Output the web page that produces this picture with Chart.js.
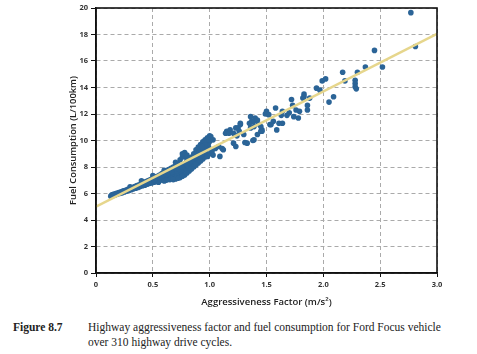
<!DOCTYPE html>
<html>
<head>
<meta charset="utf-8">
<script src="https://cdn.jsdelivr.net/npm/chart.js@4.4.1/dist/chart.umd.min.js"></script>
<style>
  body { margin: 0; background: #fff; width: 477px; height: 354px; position: relative; overflow: hidden; }
  #wrap { position: absolute; left: 0; top: 0; width: 477px; height: 310px; }
  .cap { position: absolute; font-family: "Liberation Serif", serif; font-size: 11.5px; color: #222; line-height: 15px; }
</style>
</head>
<body>
<div id="wrap"><canvas id="fuelChart"></canvas></div>
<div class="cap" style="left:13px; top:320px; font-weight:bold;">Figure 8.7</div>
<div class="cap" style="left:88px; top:320px;">Highway aggressiveness factor and fuel consumption for Ford Focus vehicle<br>over 310 highway drive cycles.</div>
<script>
// aggressiveness factor (m/s2) and fuel use (L/100km)
const aggX = [
  0.13, 0.14, 0.15, 0.16, 0.17, 0.18, 0.19, 0.20, 0.21, 0.22, 0.23, 0.24, 0.25, 0.26, 0.27, 0.28, 0.29, 0.30,
  0.31, 0.32, 0.33, 0.34, 0.35, 0.36, 0.37, 0.38, 0.39, 0.40, 0.41, 0.42, 0.43, 0.44, 0.45, 0.46, 0.47, 0.48,
  0.49, 0.50, 0.51, 0.52, 0.53, 0.54, 0.55, 0.56, 0.57, 0.58, 0.59, 0.60, 0.61, 0.62, 0.63, 0.64, 0.65, 0.66,
  0.67, 0.68, 0.69, 0.70, 0.71, 0.72, 0.73, 0.74, 0.75, 0.76, 0.77, 0.78, 0.79, 0.80, 0.81, 0.82, 0.83, 0.84,
  0.85, 0.86, 0.87, 0.88, 0.89, 0.90, 0.91, 0.92, 0.93, 0.94, 0.95, 0.96, 0.97, 0.98, 0.99, 1.00,
  0.15, 0.18, 0.21, 0.24, 0.27, 0.30, 0.33, 0.36, 0.39, 0.42, 0.45, 0.48, 0.51, 0.54, 0.57, 0.60, 0.63, 0.66,
  0.69, 0.72, 0.75, 0.78, 0.81, 0.84, 0.87, 0.90, 0.93, 0.96, 0.99,
  0.55, 0.60, 0.65, 0.70, 0.74, 0.78, 0.82, 0.86, 0.90, 0.94, 0.98,
  0.30, 0.40, 0.50, 0.60, 0.70, 0.76, 0.78, 0.80,
  0.52, 0.56, 0.59, 0.62, 0.64, 0.67, 0.68, 0.71, 0.73, 0.76, 0.77, 0.79, 0.80, 0.82, 0.83, 0.85, 0.86, 0.88,
  0.89, 0.91, 0.92, 0.94, 0.95, 0.97, 0.98, 1.00, 0.97, 0.99,
  0.62, 0.68, 0.72, 0.76, 0.80, 0.84, 0.88, 0.92, 0.96, 1.00, 1.02,
  1.01, 0.99, 0.95, 0.96, 0.93, 1.03, 1.02, 0.96, 0.98, 0.93, 1.03, 1.09, 1.05, 1.08, 1.11, 1.12, 1.21, 1.23,
  1.15, 1.14, 1.17, 1.18, 1.30, 1.31, 1.33, 1.39, 1.46, 1.45,
  1.27, 1.25, 1.26, 1.23, 1.21, 1.24, 1.27, 1.36, 1.37, 1.35, 1.39, 1.36,
  1.40, 1.39, 1.42, 1.43, 1.45, 1.46, 1.42, 1.38,
  1.50, 1.49, 1.52, 1.56, 1.53, 1.59, 1.58, 1.64, 1.63, 1.61, 1.54, 1.64,
  1.72, 1.73, 1.76, 1.79, 1.70, 1.68, 1.74, 1.78, 1.86, 1.86, 1.83, 1.83, 1.82,
  1.88, 1.94, 1.97, 1.99, 2.02, 2.05, 2.09, 2.17, 2.19, 2.28, 2.28, 2.28, 2.29, 2.30, 2.37, 2.45, 2.52, 2.77, 2.81
];
const fuelY = [
  5.80, 5.90, 5.85, 5.95, 5.88, 6.02, 5.96, 6.08, 6.00, 6.12, 6.05, 6.20, 6.12, 6.25, 6.18, 6.32, 6.22, 6.40,
  6.28, 6.45, 6.35, 6.52, 6.40, 6.60, 6.45, 6.66, 6.52, 6.75, 6.58, 6.82, 6.62, 6.90, 6.70, 6.98, 6.75, 7.05,
  6.80, 7.15, 6.85, 7.25, 6.90, 7.30, 6.95, 7.40, 7.00, 7.50, 7.10, 7.60, 7.15, 7.70, 7.25, 7.80, 7.30, 7.90,
  7.35, 8.00, 7.45, 8.10, 7.50, 8.25, 7.55, 8.55, 7.65, 8.75, 7.75, 8.80, 7.90, 8.50, 8.05, 8.65, 8.15, 8.75,
  8.30, 9.00, 8.40, 9.30, 8.55, 9.50, 8.60, 9.70, 8.90, 9.90, 9.10, 10.05, 9.30, 10.20, 9.50, 10.35,
  5.92, 5.98, 6.06, 6.14, 6.24, 6.33, 6.42, 6.52, 6.60, 6.70, 6.80, 6.92, 7.02, 7.12, 7.22, 7.35, 7.48, 7.60,
  7.75, 7.88, 8.05, 8.25, 8.40, 8.55, 8.70, 8.95, 9.20, 9.45, 9.80,
  6.85, 6.95, 7.05, 7.10, 7.20, 7.40, 7.70, 8.00, 8.30, 8.60, 8.90,
  6.50, 6.95, 7.35, 7.75, 8.35, 9.00, 9.10, 8.90,
  7.05, 7.20, 7.35, 7.45, 7.55, 7.65, 7.80, 7.70, 7.85, 8.00, 8.15, 8.30, 8.20, 8.35, 8.45, 8.60, 8.75, 8.85,
  9.00, 9.15, 9.30, 9.40, 9.55, 9.65, 9.75, 9.95, 9.95, 10.15,
  7.00, 7.05, 7.15, 7.30, 7.55, 7.85, 8.15, 8.45, 8.75, 9.00, 9.30,
  10.30, 10.05, 9.90, 9.65, 9.55, 10.05, 9.15, 9.05, 8.80, 8.90, 8.90, 8.80, 9.40, 9.55, 9.40, 9.30, 9.80, 9.55,
  10.70, 10.55, 10.55, 10.80, 10.45, 9.85, 9.80, 10.05, 10.80, 10.70,
  11.20, 10.95, 10.70, 10.95, 10.55, 10.35, 11.30, 11.80, 11.45, 11.30, 11.05, 10.95,
  11.70, 11.45, 11.55, 11.25, 11.05, 10.70, 10.45, 10.00,
  12.20, 12.00, 11.95, 11.45, 11.20, 10.80, 12.45, 12.20, 11.90, 11.30, 11.20, 11.30,
  13.10, 12.65, 12.30, 12.20, 12.10, 11.90, 11.80, 11.70, 12.65, 12.30, 13.50, 13.30, 13.20,
  13.20, 13.95, 13.80, 14.50, 14.65, 12.90, 13.30, 15.15, 14.50, 14.55, 14.30, 14.05, 13.90, 15.15, 15.55, 16.80, 15.55, 19.65, 17.10
];
// fitted trend line end points
const trendX = [0, 3];
const trendY = [5.0, 18.05];
const xTicks = [0, 0.5, 1, 1.5, 2, 2.5, 3];
const yTicks = [0, 2, 4, 6, 8, 10, 12, 14, 16, 18, 20];

const points = aggX.map((x, i) => ({ x: x, y: fuelY[i] }));
const trend = trendX.map((x, i) => ({ x: x, y: trendY[i] }));

// box round the plot area (left/bottom/top/right)
const frame = {
  id: 'plotFrame',
  afterDraw(chart) {
    const a = chart.chartArea;
    const c = chart.ctx;
    c.save();
    c.setLineDash([]);
    c.strokeStyle = '#111';
    c.lineWidth = 1.6;
    c.strokeRect(a.left, a.top, a.right - a.left, a.bottom - a.top);
    c.restore();
  }
};

const tickFont = { family: 'Open Sans', size: 7.5, weight: 'bold' };

new Chart(document.getElementById('fuelChart'), {
  type: 'scatter',
  data: {
    datasets: [
      {
        type: 'line',
        data: trend,
        borderColor: '#e6d68c',
        borderWidth: 2.5,
        pointRadius: 0,
        fill: false
      },
      {
        data: points,
        backgroundColor: '#2b6497',
        borderColor: '#2b6497',
        pointRadius: 2.8,
        pointBorderWidth: 0
      }
    ]
  },
  options: {
    responsive: true,
    maintainAspectRatio: false,
    animation: false,
    layout: { padding: { left: 68, right: 40, top: 8, bottom: 2 } },
    plugins: { legend: { display: false }, tooltip: { enabled: false } },
    scales: {
      x: {
        type: 'linear',
        min: 0, max: 3,
        afterBuildTicks: s => { s.ticks = xTicks.map(v => ({ value: v })); },
        afterFit: s => { s.height = 35; },
        ticks: { color: '#333', font: tickFont, padding: 3 },
        grid: { color: '#aaaaaa', lineWidth: 1, tickLength: 4, tickColor: '#111' },
        border: { display: true, color: '#111', width: 1.5, dash: [4, 3] },
        title: {
          display: true,
          text: 'Aggressiveness Factor (m/s²)',
          color: '#222',
          font: { family: 'Open Sans', size: 9.5, weight: 600 },
          padding: { top: 4, bottom: 0 }
        }
      },
      y: {
        min: 0, max: 20,
        afterBuildTicks: s => { s.ticks = yTicks.map(v => ({ value: v })); },
        afterFit: s => { s.width = 28; },
        ticks: { color: '#333', font: tickFont, padding: 3 },
        grid: { color: '#aaaaaa', lineWidth: 1, tickLength: 5, tickColor: '#111' },
        border: { display: true, color: '#111', width: 1.5, dash: [4, 3] },
        title: {
          display: true,
          text: 'Fuel Consumption (L/100km)',
          color: '#222',
          font: { family: 'Open Sans', size: 9.3, weight: 600 },
          padding: { top: 0, bottom: 2 }
        }
      }
    }
  },
  plugins: [frame]
});
</script>
</body>
</html>
